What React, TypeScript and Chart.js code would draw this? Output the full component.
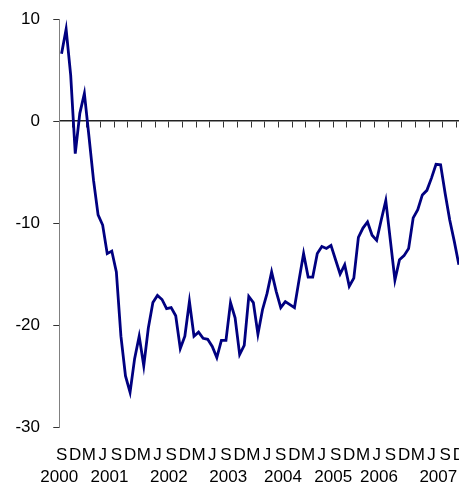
import React, { useEffect, useRef } from 'react';
import { Chart, registerables } from 'chart.js';

Chart.register(...registerables);

const MONTH_NAMES = ['Jan', 'Feb', 'Mar', 'Apr', 'May', 'Jun', 'Jul', 'Aug', 'Sep', 'Oct', 'Nov', 'Dec'];
const START_YEAR = 2000;
const START_MONTH = 8; // September

// Monthly values, Sep 2000 – Dec 2007
const values: number[] = [
  6.6, 9.0, 4.5, -3.2, 0.75, 2.7, -1.5, -5.8, -9.2, -10.2, -13.0, -12.75,
  -14.8, -21.1, -25.0, -26.6, -23.3, -21.1, -24.0, -20.3, -17.8, -17.1, -17.5, -18.4,
  -18.3, -19.1, -22.3, -21.1, -17.7, -21.1, -20.7, -21.3, -21.4, -22.1, -23.2, -21.5,
  -21.5, -17.8, -19.3, -22.9, -22.0, -17.2, -17.8, -20.9, -18.5, -16.9, -14.8, -16.7,
  -18.3, -17.7, -18.0, -18.3, -15.6, -13.0, -15.3, -15.3, -13.0, -12.3, -12.5, -12.2,
  -13.6, -15.0, -14.1, -16.2, -15.4, -11.4, -10.5, -9.9, -11.2, -11.7, -9.7, -7.8,
  -11.7, -15.6, -13.6, -13.2, -12.5, -9.5, -8.7, -7.25, -6.8, -5.6, -4.25, -4.3,
  -7.1, -9.7, -11.8, -14.1,
];

const categories: string[] = values.map((_, i) => {
  const m = (START_MONTH + i) % 12;
  const y = START_YEAR + Math.floor((START_MONTH + i) / 12);
  return `${MONTH_NAMES[m]} ${y}`;
});

const quarterLetters: Record<string, string> = { Sep: 'S', Dec: 'D', Mar: 'M', Jun: 'J' };

const yearLabelAt: Record<string, string> = {
  'Sep 2000': '2000',
  'Aug 2001': '2001',
  'Sep 2002': '2002',
  'Oct 2003': '2003',
  'Oct 2004': '2004',
  'Sep 2005': '2005',
  'Jul 2006': '2006',
  'Aug 2007': '2007',
};

const Y_MIN = -30;
const Y_MAX = 10;
const Y_STEP = 10;

const FAMILY = '"Liberation Sans", Arial, sans-serif';
const SIZE = 17;

export default function App() {
  const ref = useRef<HTMLCanvasElement | null>(null);

  useEffect(() => {
    if (!ref.current) return;
    const chart = new Chart(ref.current, {
      type: 'line',
      data: {
        labels: categories,
        datasets: [
          {
            data: values,
            xAxisID: 'x',
            yAxisID: 'y',
            borderColor: '#000080',
            borderWidth: 2.8,
            pointRadius: 0,
            tension: 0,
            fill: false,
          },
        ],
      },
      options: {
        responsive: false,
        animation: false,
        layout: { padding: { left: 2.1, top: 19, right: 0, bottom: 57 } },
        plugins: { legend: { display: false }, tooltip: { enabled: false } },
        scales: {
          x: {
            type: 'category',
            position: { y: Y_MIN },
            offset: true,
            grid: { display: false, drawTicks: false },
            border: { display: false },
            ticks: {
              autoSkip: false,
              maxRotation: 0,
              minRotation: 0,
              padding: 0,
              color: '#000',
              font: { family: FAMILY, size: SIZE, lineHeight: 57 / SIZE },
              callback: (_v: any, i: number) => quarterLetters[categories[i].slice(0, 3)] ?? '',
            },
          },
          xYear: {
            type: 'category',
            position: { y: Y_MIN },
            offset: true,
            grid: { display: false, drawTicks: false },
            border: { display: false },
            ticks: {
              autoSkip: false,
              maxRotation: 0,
              minRotation: 0,
              padding: 0,
              labelOffset: -2.3,
              color: '#000',
              font: { family: FAMILY, size: SIZE, lineHeight: 100 / SIZE },
              callback: (_v: any, i: number) => yearLabelAt[categories[i]] ?? '',
            },
          },
          xZero: {
            type: 'category',
            position: { y: 0 },
            offset: true,
            grid: {
              offset: true,
              drawOnChartArea: false,
              drawTicks: true,
              tickLength: 6,
              lineWidth: 1,
              color: (ctx: any) => (ctx.index % 3 === 0 ? '#333' : 'rgba(0,0,0,0)'),
            },
            border: { display: true, color: '#222', width: 1.5 },
            ticks: { display: false, autoSkip: false },
          },
          y: {
            min: Y_MIN,
            max: Y_MAX,
            position: 'left',
            ticks: {
              stepSize: Y_STEP,
              padding: 13.3,
              color: '#000',
              font: { family: FAMILY, size: SIZE, lineHeight: 0.6 },
            },
            grid: { drawOnChartArea: false, drawTicks: true, tickLength: 6, color: '#333' },
            border: { display: true, color: '#808080', width: 1 },
          },
        },
      },
    });
    return () => chart.destroy();
  }, []);

  return (
    <div
      style={{
        position: 'absolute',
        left: 0,
        top: 0,
        width: 459,
        height: 484,
        overflow: 'hidden',
        background: '#fff',
      }}
    >
      <canvas ref={ref} width={465} height={484} style={{ display: 'block' }} />
    </div>
  );
}
